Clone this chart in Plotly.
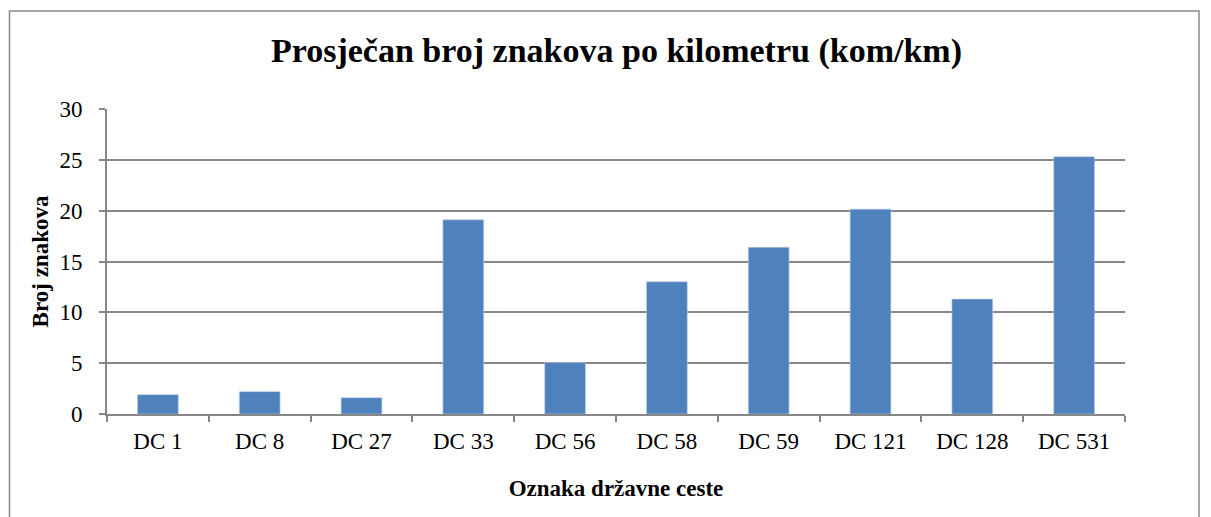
import plotly.graph_objects as go

categories = ["DC 1", "DC 8", "DC 27", "DC 33", "DC 56", "DC 58", "DC 59", "DC 121", "DC 128", "DC 531"]
values = [1.9, 2.2, 1.6, 19.1, 5.05, 13.0, 16.4, 20.15, 11.3, 25.3]
y_ticks = [0, 5, 10, 15, 20, 25, 30]

title_text = "Prosječan broj znakova po kilometru (kom/km)"
x_title = "Oznaka državne ceste"
y_title = "Broj znakova"

FONT = "Liberation Serif"

fig = go.Figure(go.Bar(
    x=categories, y=values,
    marker=dict(color="#4F81BD", line=dict(color="#B9CDE5", width=0.6)),
))

fig.update_layout(
    width=1203, height=509,
    margin=dict(l=99, r=86, t=101, b=103),
    paper_bgcolor="white", plot_bgcolor="white",
    bargap=0.6,
    showlegend=False,
    font=dict(family=FONT, color="black", size=23),
    title=dict(text="<b>" + title_text + "</b>", x=0.5058, xanchor="center",
               y=0.918, yanchor="middle", font=dict(family=FONT, size=34, color="black")),
    shapes=[dict(type="rect", xref="paper", yref="paper", x0=-0.0958, x1=1.0727, y0=-0.40, y1=1.321,
                 line=dict(color="#8C8C8C", width=1.5), layer="below")],
)

fig.update_xaxes(
    showline=True, linecolor="#868686", linewidth=2,
    ticks="outside", tickson="boundaries", ticklen=6, tickcolor="#868686", tickwidth=2,
    tickfont=dict(family=FONT, size=23, color="black"),
    ticklabelstandoff=5,
    title=dict(text="<b>" + x_title + "</b>", font=dict(family=FONT, size=23, color="black"), standoff=27),
    showgrid=False,
)
fig.update_yaxes(
    range=[0, 30], tickvals=y_ticks,
    showline=True, linecolor="#868686", linewidth=2,
    ticks="outside", ticklen=6, tickcolor="#868686", tickwidth=2,
    ticklabelstandoff=12,
    showgrid=True, gridcolor="#868686", gridwidth=1.5,
    zeroline=False,
    tickfont=dict(family=FONT, size=23, color="black"),
    title=dict(text="<b>" + y_title + "</b>", font=dict(family=FONT, size=23, color="black"), standoff=4),
)

fig.write_html("out.html")
